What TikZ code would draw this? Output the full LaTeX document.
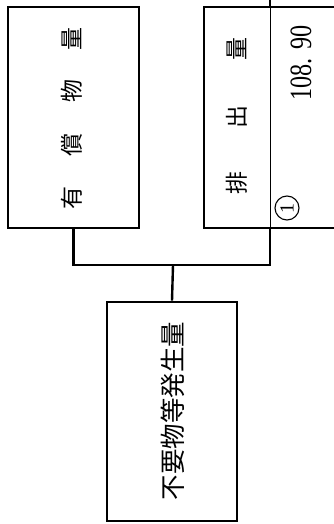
\documentclass[tikz,border=0pt]{standalone}
\usepackage{fontspec}
\newfontfamily\jpfont{Noto Sans CJK JP}
\setmainfont{Liberation Serif}
\tikzset{
  boxnode/.style={draw, line width=2.6pt, inner sep=0pt},
  conn/.style={line width=2.4pt},
  thinline/.style={line width=0.8pt},
  ch/.style={font=\jpfont\fontsize{23}{23}\selectfont, rotate=90, inner sep=0pt},
  chb/.style={font=\jpfont\fontsize{25.5}{25.5}\selectfont, rotate=90, inner sep=0pt},
}
\begin{document}
\begin{tikzpicture}[x=1pt,y=-1pt]
\useasboundingbox (0,0) rectangle (334,524);
% boxes
\node[boxnode, minimum width=131pt, minimum height=221pt] (yuusho) at (73.5,117.5) {};
\node[boxnode, minimum width=150pt, minimum height=221pt] (haishutsu) at (279,117.5) {};
\node[boxnode, minimum width=130pt, minimum height=219pt] (fusei) at (172,411.5) {};
% divider in right box
\coordinate (dvt) at (270,7);
\coordinate (dvb) at (270,228);
\coordinate (topend) at (270,-5);
\draw[thinline] (dvt) -- (dvb);
\draw[conn] (dvt) -- (topend);
% connectors
\coordinate (j) at (173,265);
\draw[conn] (yuusho.south) |- (j);
\draw[conn] (dvb) |- (j);
\draw[conn] (j) -- (fusei.north);
% left box text
\node[ch] (l1) at (72,198) {有};
\node[ch] (l2) at (72,145) {償};
\node[ch] (l3) at (72,91) {物};
\node[ch] (l4) at (72,39) {量};
% right box text
\node[ch] (r1) at (237,183) {排};
\node[ch] (r2) at (237,117) {出};
\node[ch] (r3) at (237,49) {量};
\node[rotate=90, inner sep=0pt, font=\fontsize{31}{31}\selectfont] (val) at (301,63) {\scalebox{0.78}[1]{108. 90}};
\node[draw, circle, line width=1.1pt, minimum size=24pt, inner sep=0pt, rotate=90, font=\fontsize{20}{20}\selectfont] (num) at (287,208) {1};
% bottom box text
\node[chb] (btext) at (173,411) {不要物等発生量};
\end{tikzpicture}
\end{document}
